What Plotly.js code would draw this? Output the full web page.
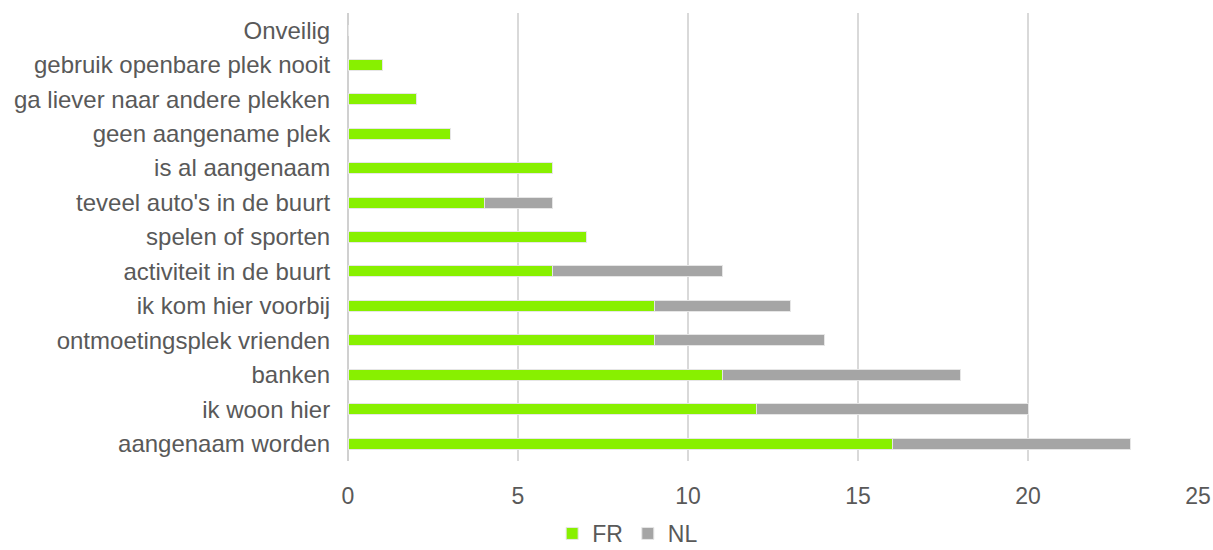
<!DOCTYPE html>
<html><head><meta charset="utf-8">
<script src="https://cdn.plot.ly/plotly-3.0.1.min.js"></script>
<style>body{margin:0;background:#fff}#c{width:1213px;height:550px}</style>
</head><body><div id="c"></div>
<script>
const categories = ["aangenaam worden","ik woon hier","banken","ontmoetingsplek vrienden","ik kom hier voorbij","activiteit in de buurt","spelen of sporten","teveel auto's in de buurt","is al aangenaam","geen aangename plek","ga liever naar andere plekken","gebruik openbare plek nooit","Onveilig"];
const frValues = [16,12,11,9,9,6,7,4,6,3,2,1,0];
const nlValues = [7,8,7,5,4,5,0,2,0,0,0,0,0];
const xTicks = [0,5,10,15,20,25];

const traces = [
  {type:'bar', orientation:'h', name:'FR', y:categories, x:frValues,
   marker:{color:'#88F000', line:{color:'#e6e6e6', width:1}}},
  {type:'bar', orientation:'h', name:'NL', y:categories, x:nlValues,
   marker:{color:'#A5A5A5', line:{color:'#e6e6e6', width:1}}}
];
const layout = {
  width:1213, height:550,
  margin:{l:348, r:15, t:13, b:89, autoexpand:false},
  barmode:'stack', bargap:0.68,
  paper_bgcolor:'#fff', plot_bgcolor:'#fff',
  font:{family:'Liberation Sans, Arial, sans-serif', size:24, color:'#595959'},
  xaxis:{range:[0,25], tickvals:xTicks, showgrid:true, gridcolor:'#d9d9d9', gridwidth:1.5,
    zeroline:true, zerolinecolor:'#d0d0d0', zerolinewidth:2, showline:false, automargin:false,
    ticks:'outside', ticklen:14, tickcolor:'rgba(0,0,0,0)', tickfont:{size:23,color:'#595959'}},
  yaxis:{categoryorder:'array', categoryarray:categories, showgrid:false, showline:false, automargin:false,
    ticks:'outside', ticklen:12, tickcolor:'rgba(0,0,0,0)', tickfont:{size:24,color:'#595959'}},
  showlegend:true,
  legend:{orientation:'h', x:0.329, xanchor:'center', yref:'container', y:0.03, yanchor:'middle',
    font:{size:23,color:'#595959'}, itemwidth:30, traceorder:'normal'}
};
Plotly.newPlot('c', traces, layout, {displayModeBar:false});
</script></body></html>
